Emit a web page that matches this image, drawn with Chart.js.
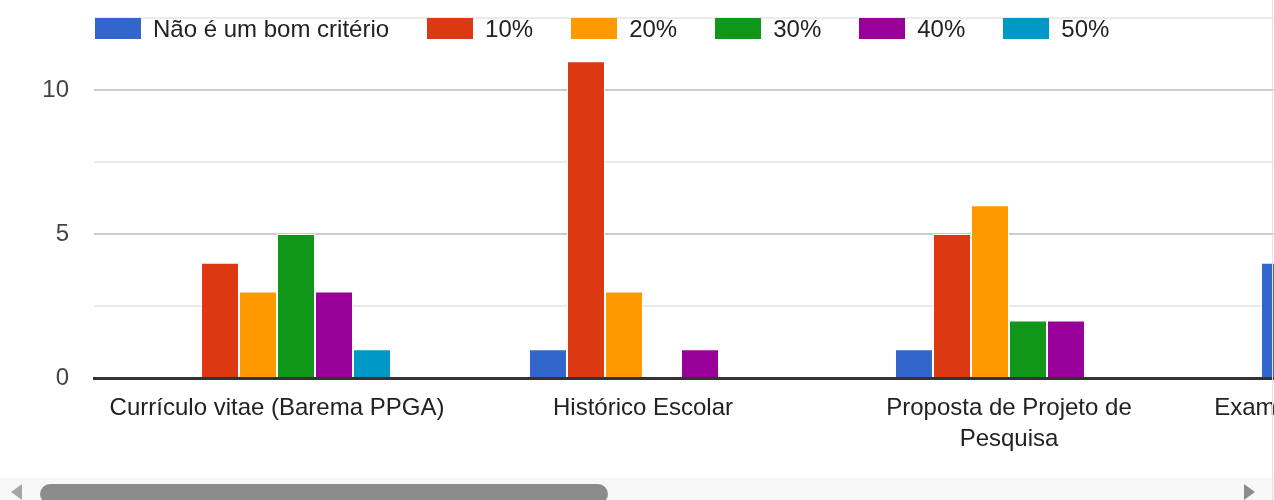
<!DOCTYPE html>
<html>
<head>
<meta charset="utf-8">
<script src="https://cdn.jsdelivr.net/npm/chart.js@4/dist/chart.umd.min.js"></script>
<style>
    body { margin: 0; width: 1274px; height: 500px; overflow: hidden; background: #fff; font-family: 'Liberation Sans', Arial, sans-serif; }
    #wrap { position: relative; width: 1274px; height: 478px; overflow: hidden; }
    #legend { position: absolute; top: 18px; left: 95px; display: flex; }
    .item { display: flex; align-items: center; margin-right: 38px; }
    .box { width: 46px; height: 21px; margin-right: 12px; }
    .lbl { font-size: 24px; color: #222; line-height: 21px; }
    #track { position: absolute; left: 0; top: 478px; width: 1274px; height: 22px; background: #f8f8f8; }
    #thumb { position: absolute; left: 40px; top: 6px; width: 568px; height: 20px; border-radius: 10px; background: #8c8c8c; }
    .arrow { position: absolute; top: 6px; width: 0; height: 0; border-top: 8px solid transparent; border-bottom: 8px solid transparent; }
    #left { left: 11px; border-right: 11px solid #a6a6a6; }
    #right { left: 1244px; border-left: 11px solid #8c8c8c; }
    #edge { position: absolute; left: 1272px; top: 0; width: 1px; height: 500px; background: #e3e3e3; }
</style>
</head>
<body>
<div id="wrap">
    <canvas id="chart" width="1558" height="478"></canvas>
    <div id="legend"></div>
</div>
<div id="track">
    <div class="arrow" id="left"></div>
    <div id="thumb"></div>
    <div class="arrow" id="right"></div>
</div>
<div id="edge"></div>
<script>
    // categories (only the part visible in the scroll window)
    const categories = [
        'Currículo vitae (Barema PPGA)',
        'Histórico Escolar',
        ['Proposta de Projeto de', 'Pesquisa'],
        ['Exame de Conhecimentos em', 'Agronomia']
    ];

    const seriesNames = ['Não é um bom critério', '10%', '20%', '30%', '40%', '50%'];
    const seriesColors = ['#3366cc', '#dc3912', '#ff9900', '#109618', '#990099', '#0099c6'];

    // one array per series, null = no bar
    const naoCriterio = [null, 1, 1, 4];
    const pct10 = [4, 11, 5, null];
    const pct20 = [3, 3, 6, null];
    const pct30 = [5, null, 2, null];
    const pct40 = [3, 1, 2, null];
    const pct50 = [1, null, null, null];

    const yTicks = [0, 5, 10];

    const seriesData = [naoCriterio, pct10, pct20, pct30, pct40, pct50];

    // legend
    const legend = document.getElementById('legend');
    seriesNames.forEach(function(name, i) {
        const item = document.createElement('div');
        item.className = 'item';
        item.innerHTML = '<span class="box" style="background:' + seriesColors[i] + '"></span><span class="lbl">' + name + '</span>';
        legend.appendChild(item);
    });

    const ctx = document.getElementById('chart').getContext('2d');
    Chart.defaults.font.family = "'Liberation Sans', Arial, sans-serif";

    new Chart(ctx, {
        type: 'bar',
        data: {
            labels: categories,
            datasets: seriesData.map(function(values, i) {
                return {
                    label: seriesNames[i],
                    data: values,
                    backgroundColor: seriesColors[i],
                    borderColor: '#ffffff',
                    borderWidth: 1,
                    barPercentage: 1,
                    categoryPercentage: 0.623
                };
            })
        },
        options: {
            responsive: false,
            maintainAspectRatio: false,
            animation: false,
            layout: { padding: { top: 18, left: 0, right: 0, bottom: 0 } },
            plugins: {
                legend: { display: false },
                tooltip: { enabled: false }
            },
            scales: {
                x: {
                    z: 1,
                    grid: { display: false },
                    border: { color: '#333333', width: 3 },
                    ticks: {
                        color: '#222222',
                        font: { size: 24, lineHeight: 1.3 },
                        padding: 7,
                        maxRotation: 0,
                        autoSkip: false
                    },
                    afterFit: function(scale) { scale.height = 100; }
                },
                y: {
                    min: 0,
                    max: 12.5,
                    border: { display: false },
                    grid: {
                        drawTicks: false,
                        lineWidth: 2,
                        color: function(c) {
                            const v = c.tick.value;
                            if (v === 0) return 'rgba(0,0,0,0)';
                            return yTicks.includes(v) ? '#cccccc' : '#ebebeb';
                        }
                    },
                    ticks: {
                        stepSize: 2.5,
                        color: '#444444',
                        font: { size: 24 },
                        padding: 25,
                        callback: function(v) { return yTicks.includes(v) ? v : ''; }
                    },
                    afterFit: function(scale) {
                        scale.width = 94;
                        scale.paddingTop = 0;
                        scale.paddingBottom = 0;
                    }
                }
            }
        }
    });
</script>
</body>
</html>
